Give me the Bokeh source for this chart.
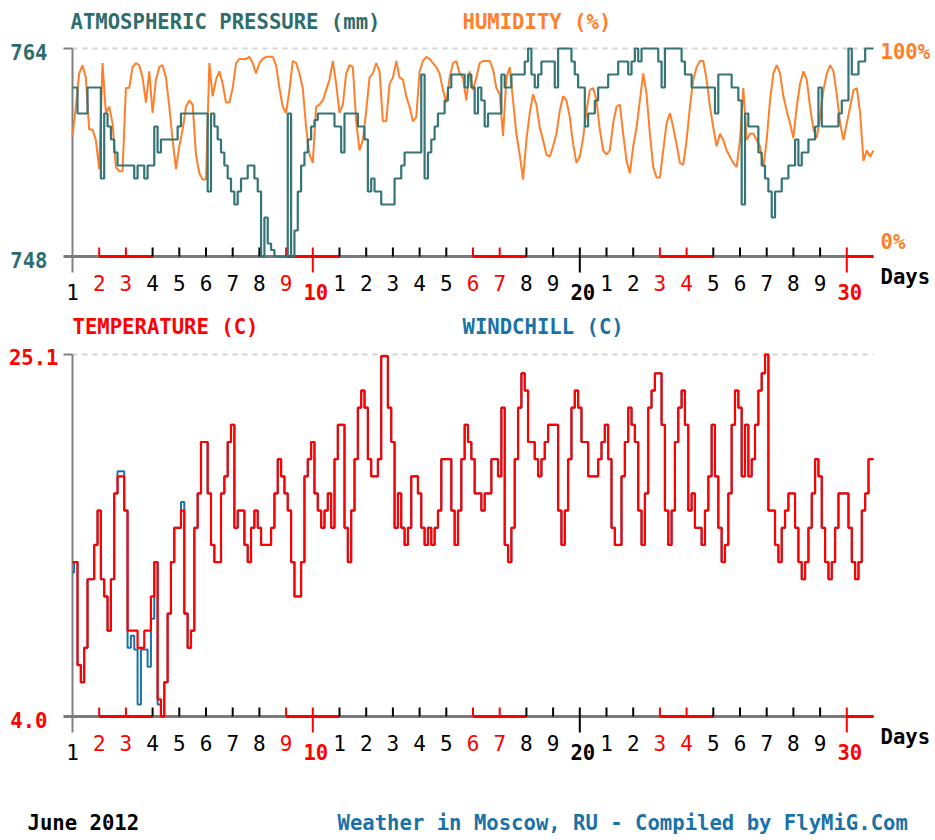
import numpy as np
from bokeh.plotting import figure
from bokeh.models import Range1d
from bokeh.core.properties import value
from bokeh.embed import file_html
from bokeh.resources import INLINE

# ---------------------------------------------------------------------------
# Moscow, June 2012 - 3-hourly readings from June 1 00:00 to July 1 00:00
# ---------------------------------------------------------------------------
pressure_mm = [
    761, 761, 759, 759, 759, 761, 761, 761, 761,
    754, 759, 758, 757, 756, 755, 755, 755,
    755, 755, 754, 755, 755, 754, 755, 755,
    758, 756, 757, 757, 757, 757, 757, 758,
    759, 759, 759, 759, 759, 759, 759, 759,
    753, 759, 758, 757, 756, 755, 754, 753,
    752, 753, 754, 754, 755, 755, 754, 753,
    748, 751, 749, 748.5, 748, 748, 748, 748,
    759, 748, 750, 753, 755, 756, 757, 758,
    758.5, 759, 759, 759, 759, 759, 758, 758,
    756, 759, 759, 759, 759, 758, 758, 757,
    753, 754, 753, 753, 752, 752, 752, 752,
    754, 754, 755, 756, 756, 756, 756, 756,
    762, 754, 756, 757, 758, 759, 759, 760,
    761, 762, 762, 762, 762, 761, 762, 761,
    759, 761, 760, 758, 759, 759, 759, 759,
    762, 761, 761, 762, 762, 762, 762, 763,
    764, 762, 761, 762, 763, 763, 763, 763,
    761, 764, 764, 764, 764, 763, 762, 761,
    761, 758, 759, 759, 760, 761, 761, 761,
    762, 762, 762, 763, 763, 763, 762, 763,
    764, 763, 764, 764, 764, 764, 764, 763,
    761, 764, 764, 764, 764, 764, 763, 762,
    762, 761, 761, 761, 761, 761, 761, 761,
    759, 762, 762, 762, 762, 761, 761, 760,
    752, 759, 758, 758, 758, 756, 755, 754,
    753, 751, 753, 753, 754, 754, 755, 755,
    757, 755, 756, 756, 757, 757, 758, 761,
    758, 758, 758, 758, 758, 759, 760, 760,
    764, 762, 762, 763, 763, 764, 764, 764,
]

humidity_pct = [
    58, 72, 88, 92, 86, 61, 61, 56, 42,
    93, 69, 72, 64, 43, 41, 41, 81,
    81, 91, 93, 92, 86, 74, 89, 69,
    85, 91, 92, 86, 72, 56, 42, 53,
    61, 72, 75, 73, 49, 40, 37, 37,
    93, 77, 85, 89, 83, 74, 74, 81,
    93, 95, 95, 95, 96, 93, 88, 93,
    95, 96, 96, 96, 92, 81, 72, 69,
    80, 94, 93, 88, 81, 62, 49, 45,
    72, 73, 75, 80, 85, 94, 83, 69,
    73, 88, 92, 91, 65, 51, 56, 70,
    86, 88, 93, 89, 65, 65, 83, 86,
    94, 86, 85, 77, 72, 65, 67, 89,
    94, 96, 95, 93, 91, 88, 80, 74,
    86, 93, 94, 88, 86, 75, 89, 80,
    86, 93, 94, 94, 94, 90, 81, 78,
    58, 86, 91, 75, 59, 49, 37, 56,
    69, 78, 73, 62, 56, 49, 48, 53,
    59, 70, 77, 75, 67, 54, 45, 48,
    57, 70, 80, 81, 75, 61, 51, 49,
    51, 64, 72, 73, 59, 46, 40, 53,
    62, 75, 88, 78, 59, 43, 38, 38,
    51, 64, 69, 62, 54, 45, 44, 56,
    72, 85, 91, 94, 94, 85, 72, 62,
    53, 59, 56, 51, 48, 45, 43, 56,
    81, 56, 59, 59, 56, 53, 43, 56,
    75, 88, 92, 88, 77, 70, 64, 57,
    72, 83, 89, 85, 72, 61, 57, 67,
    80, 88, 92, 89, 78, 64, 56, 64,
    72, 80, 81, 69, 46, 51, 48, 51,
]

temperature_c = [
    13, 13, 7, 6, 8, 12, 12, 14, 16,
    12, 11, 9, 12, 17, 18, 18, 16,
    9, 9, 9, 8, 8, 9, 9, 11,
    13, 5, 4, 6, 10, 13, 15, 15,
    16, 10, 8, 9, 15, 17, 20, 20,
    17, 14, 13, 13, 17, 18, 20, 21,
    15, 16, 16, 14, 13, 15, 16, 15,
    14, 14, 14, 15, 17, 19, 18, 17,
    16, 13, 11, 11, 13, 18, 19, 20,
    17, 16, 15, 16, 17, 15, 19, 21,
    21, 15, 13, 16, 19, 22, 23, 22,
    19, 18, 18, 19, 25, 25, 22, 20,
    15, 17, 15, 14, 15, 18, 18, 17,
    15, 14, 15, 14, 15, 16, 19, 19,
    19, 16, 14, 16, 19, 21, 20, 19,
    17, 17, 16, 17, 17, 19, 19, 18,
    22, 14, 13, 15, 19, 22, 24, 23,
    20, 20, 19, 18, 19, 20, 21, 21,
    21, 16, 14, 16, 19, 22, 23, 22,
    20, 20, 18, 18, 18, 19, 20, 21,
    19, 15, 14, 14, 18, 20, 22, 21,
    20, 16, 14, 17, 22, 23, 24, 24,
    21, 16, 14, 16, 20, 22, 23, 21,
    16, 17, 15, 15, 14, 16, 18, 21,
    18, 15, 13, 14, 17, 21, 23, 22,
    18, 21, 18, 19, 21, 23, 24, 25.1,
    16, 16, 14, 13, 15, 16, 17, 17,
    15, 13, 12, 13, 15, 17, 19, 18,
    15, 13, 12, 13, 15, 17, 17, 17,
    15, 13, 12, 13, 16, 17, 19, 19,
]

windchill_c = [
    12.4, 13, 7, 6, 8, 12, 12, 14, 16,
    12, 11, 9, 12, 17, 18.3, 18.3, 16,
    8, 8.7, 7.9, 4.7, 7.9, 7.9, 6.9, 9.7,
    13, 4.7, 4, 6, 10, 13, 15, 15,
    16.5, 10, 8, 9, 15, 17, 20, 20,
    17, 14, 13, 13, 17, 18, 20, 21,
    15, 16, 16, 14, 13, 15, 16, 15,
    14, 14, 14, 15, 17, 19, 18, 17,
    16, 13, 11, 11, 13, 18, 19, 20,
    17, 16, 15, 16, 17, 15, 19, 21,
    21, 15, 13, 16, 19, 22, 23, 22,
    19, 18, 18, 19, 25, 25, 22, 20,
    15, 17, 15, 14, 15, 18, 18, 17,
    15, 14, 15, 14, 15, 16, 19, 19,
    19, 16, 14, 16, 19, 21, 20, 19,
    17, 17, 16, 17, 17, 19, 19, 18,
    22, 14, 13, 15, 19, 22, 24, 23,
    20, 20, 19, 18, 19, 20, 21, 21,
    21, 16, 14, 16, 19, 22, 23, 22,
    20, 20, 18, 18, 18, 19, 20, 21,
    19, 15, 14, 14, 18, 20, 22, 21,
    20, 16, 14, 17, 22, 23, 24, 24,
    21, 16, 14, 16, 20, 22, 23, 21,
    16, 17, 15, 15, 14, 16, 18, 21,
    18, 15, 13, 14, 17, 21, 23, 22,
    18, 21, 18, 19, 21, 23, 24, 25.1,
    16, 16, 14, 13, 15, 16, 17, 17,
    15, 13, 12, 13, 15, 17, 19, 18,
    15, 13, 12, 13, 15, 17, 17, 17,
    15, 13, 12, 13, 16, 17, 19, 19,
]

readings_per_day = 8
days = list(range(1, 31))
weekend_days = [2, 3, 9, 10, 16, 17, 23, 24, 30]

# ---------------------------------------------------------------------------
# Canvas geometry (pixels) - one frame covering the whole page
# ---------------------------------------------------------------------------
W, H = 935, 840
X_FIRST, X_LAST = 72, 873          # day 1 and end of day 30
PX_DAY = (X_LAST - X_FIRST) / 30.0

P_TOP_PX, P_AXIS_PX = 48, 256      # pressure / humidity panel
T_TOP_PX, T_AXIS_PX = 354, 716     # temperature / windchill panel

p_max, p_min = max(pressure_mm), min(pressure_mm)
t_max, t_min = max(temperature_c), min(windchill_c)

mm_per_px = (p_max - p_min) / (P_AXIS_PX - P_TOP_PX)
pct_per_px = 100.0 / (P_AXIS_PX - P_TOP_PX)
c_per_px = (t_max - t_min) / (T_AXIS_PX - T_TOP_PX)


def xd(px):
    return 1 + (px - X_FIRST) / PX_DAY


def yp(py):
    return p_max - (py - P_TOP_PX) * mm_per_px


x_range = Range1d(xd(0), xd(W))
y_range = Range1d(yp(H), yp(0))

p = figure(width=W, height=H, x_range=x_range, y_range=y_range,
           output_backend="svg", toolbar_location=None,
           x_axis_type=None, y_axis_type=None,
           min_border=0, min_border_left=0, min_border_right=0,
           min_border_top=0, min_border_bottom=0)
p.outline_line_color = None
p.background_fill_color = "white"
p.border_fill_color = "white"

p.extra_y_ranges = {
    "hum": Range1d(0 - (H - P_AXIS_PX) * pct_per_px, 100 + P_TOP_PX * pct_per_px),
    "temp": Range1d(t_min - (H - T_AXIS_PX) * c_per_px, t_max + T_TOP_PX * c_per_px),
}

FONT = value("DejaVu Sans Mono")
FS = "20.6px"
TEAL = "#2f6d6d"
TEAL_LINE = "#367575"
ORANGE = "#ff7f2a"
RED = "#ff0000"
BLUE = "#1a72a6"
GREY = "#808080"

t = 1 + np.arange(len(pressure_mm)) / readings_per_day

# weekend runs on the day axis
runs = []
for d in weekend_days:
    if runs and runs[-1][1] == d:
        runs[-1][1] = d + 1
    else:
        runs.append([d, d + 1])


def panel_frame(y_name, y_axis, y_top, upp):
    kw = {} if y_name is None else {"y_range_name": y_name}
    # dashed upper limit
    p.segment(x0=[1], y0=[y_top], x1=[31], y1=[y_top], line_color="#d4d4d4",
              line_width=2, line_dash="5 5", **kw)
    # left axis with short stub at the top
    p.segment(x0=[xd(63)], y0=[y_top], x1=[1], y1=[y_top], line_color=GREY,
              line_width=2, **kw)
    p.segment(x0=[1], y0=[y_top], x1=[1], y1=[y_axis - 16 * upp],
              line_color=GREY, line_width=2, **kw)
    # day axis
    p.segment(x0=[xd(63)], y0=[y_axis], x1=[31], y1=[y_axis],
              line_color="#7a7a7a", line_width=3, **kw)
    p.segment(x0=[r[0] for r in runs], y0=[y_axis] * len(runs),
              x1=[r[1] for r in runs], y1=[y_axis] * len(runs),
              line_color=RED, line_width=3, **kw)
    short = [d for d in days if d > 1 and d % 10]
    p.segment(x0=short, y0=[y_axis] * len(short), x1=short,
              y1=[y_axis + 9 * upp] * len(short),
              line_color=[RED if d in weekend_days else "black" for d in short],
              line_width=2, **kw)
    long_ = [d for d in days if d % 10 == 0]
    p.segment(x0=long_, y0=[y_axis + 9 * upp] * len(long_), x1=long_,
              y1=[y_axis - 16 * upp] * len(long_),
              line_color=[RED if d in weekend_days else "black" for d in long_],
              line_width=2, **kw)


def day_labels(axis_px):
    short = [d for d in days if d > 1 and d % 10]
    p.text(x=short, y=[yp(axis_px + 26)] * len(short),
           text=[str(d % 10) for d in short], text_font=FONT,
           text_font_size="21px",
           text_color=[RED if d in weekend_days else "black" for d in short],
           text_align="center", text_baseline="middle")
    p.text(x=[1], y=[yp(axis_px + 35)], text=["1"], text_font=FONT,
           text_font_size="21px", text_color="black",
           text_align="center", text_baseline="middle")
    long_ = [d for d in days if d % 10 == 0]
    p.text(x=[d + 3 / PX_DAY for d in long_], y=[yp(axis_px + 35)] * len(long_),
           text=[str(d) for d in long_], text_font=FONT, text_font_size=FS,
           text_font_style="bold",
           text_color=[RED if d in weekend_days else "black" for d in long_],
           text_align="center", text_baseline="middle")
    p.text(x=[xd(880)], y=[yp(axis_px + 20)], text=["Days"], text_font=FONT,
           text_font_size=FS, text_font_style="bold", text_color="black",
           text_align="left", text_baseline="middle")


def label(px, py, txt, color, align="left"):
    p.text(x=[xd(px)], y=[yp(py)], text=[txt], text_font=FONT,
           text_font_size=FS, text_font_style="bold", text_color=color,
           text_align=align, text_baseline="middle")


# ---------------- pressure / humidity panel ----------------
panel_frame(None, p_min, p_max, mm_per_px)
p.line(t, humidity_pct, line_color=ORANGE, line_width=2, y_range_name="hum")
p.step(t, pressure_mm, mode="center", line_color=TEAL_LINE, line_width=2.2)
day_labels(P_AXIS_PX)

label(70, 21, "ATMOSPHERIC PRESSURE (mm)", TEAL)
label(462, 21, "HUMIDITY (%)", ORANGE)
label(47, 51, f"{p_max:.0f}", TEAL, "right")
label(47, 259, f"{p_min:.0f}", TEAL, "right")
label(880, 51, "100%", ORANGE)
label(880, 241, "0%", ORANGE)

# ---------------- temperature / windchill panel ----------------
panel_frame("temp", t_min, t_max, c_per_px)
p.step(t, windchill_c, mode="center", line_color=BLUE, line_width=2,
       y_range_name="temp")
p.step(t, temperature_c, mode="center", line_color=RED, line_width=2.2,
       y_range_name="temp")
day_labels(T_AXIS_PX)

label(72, 326, "TEMPERATURE (C)", RED)
label(462, 326, "WINDCHILL (C)", BLUE)
label(58, 356, f"{t_max:.1f}", RED, "right")
label(47, 719, f"{t_min:.1f}", RED, "right")

# ---------------- footer ----------------
label(27, 822, "June 2012", "black")
label(337, 822, "Weather in Moscow, RU - Compiled by FlyMiG.Com", BLUE)

open("out.html", "w").write(file_html(p, INLINE))
